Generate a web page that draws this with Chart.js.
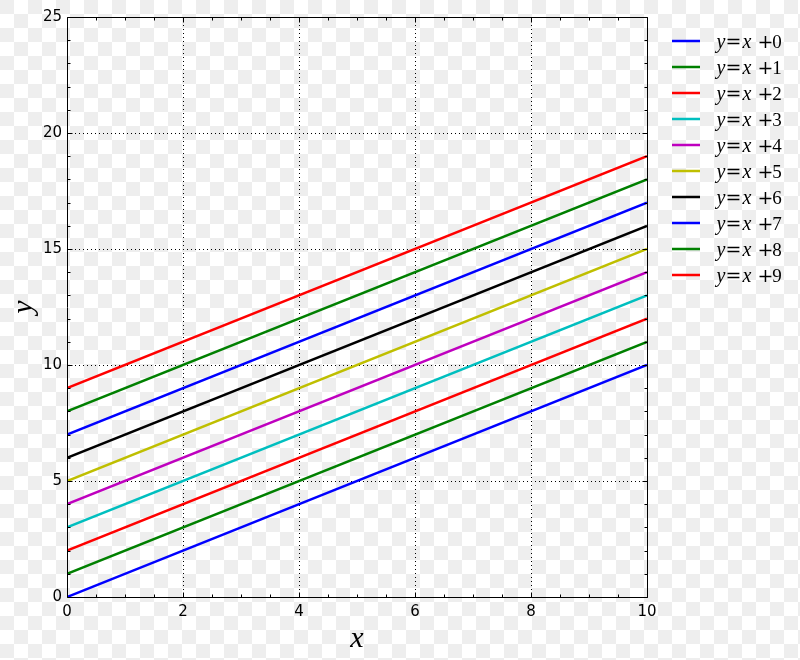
<!DOCTYPE html>
<html>
<head>
<meta charset="utf-8">
<script src="https://cdn.jsdelivr.net/npm/chart.js@4/dist/chart.umd.min.js"></script>
<style>
  html, body { margin:0; padding:0; }
  body {
    width:800px; height:660px; overflow:hidden;
    background-color:#ffffff;
    background-image: conic-gradient(#ffffff 25%, #eeeeee 0 50%, #ffffff 0 75%, #eeeeee 0);
    background-size: 28px 28px;
  }
  #wrap { position:absolute; left:0; top:0; width:800px; height:660px; }
</style>
</head>
<body>
<div id="wrap"><canvas id="c" width="800" height="660"></canvas></div>
<script>
// ---- data ----
const xValues = [0, 10];
const series0 = [0, 10];
const series1 = [1, 11];
const series2 = [2, 12];
const series3 = [3, 13];
const series4 = [4, 14];
const series5 = [5, 15];
const series6 = [6, 16];
const series7 = [7, 17];
const series8 = [8, 18];
const series9 = [9, 19];
const seriesLabels = ['y=x+0','y=x+1','y=x+2','y=x+3','y=x+4','y=x+5','y=x+6','y=x+7','y=x+8','y=x+9'];
const xMajorTicks = [0, 2, 4, 6, 8, 10];
const yMajorTicks = [0, 5, 10, 15, 20, 25];

// ---- style ----
const colors = ['#0000ff','#008000','#ff0000','#00bfbf','#bf00bf','#bfbf00','#000000','#0000ff','#008000','#ff0000'];
const allSeries = [series0,series1,series2,series3,series4,series5,series6,series7,series8,series9];

const datasets = allSeries.map((s, i) => ({
  label: seriesLabels[i],
  data: xValues.map((x, j) => ({x: x, y: s[j]})),
  borderColor: colors[i],
  backgroundColor: colors[i],
  borderWidth: 2.5,
  pointRadius: 0,
  fill: false,
  tension: 0
}));

const framePlugin = {
  id: 'mplframe',
  beforeDatasetsDraw(chart) {
    const {ctx, chartArea: a, scales: {x, y}} = chart;
    ctx.save();
    ctx.strokeStyle = '#000';
    ctx.lineWidth = 1;
    ctx.setLineDash([1, 3]);
    xMajorTicks.forEach(v => {
      const px = Math.round(x.getPixelForValue(v)) + 0.5;
      if (v === x.min || v === x.max) return;
      ctx.beginPath(); ctx.moveTo(px, a.top); ctx.lineTo(px, a.bottom); ctx.stroke();
    });
    yMajorTicks.forEach(v => {
      const py = Math.round(y.getPixelForValue(v)) + 0.5;
      if (v === y.min || v === y.max) return;
      ctx.beginPath(); ctx.moveTo(a.left, py); ctx.lineTo(a.right, py); ctx.stroke();
    });
    ctx.restore();
  },
  afterDatasetsDraw(chart) {
    const {ctx, chartArea: a, scales: {x, y}} = chart;
    ctx.save();
    ctx.strokeStyle = '#000';
    ctx.lineWidth = 1;
    ctx.setLineDash([]);
    const L = Math.round(a.left) + 0.5, R = Math.round(a.right) + 0.5;
    const T = Math.round(a.top) + 0.5, B = Math.round(a.bottom) + 0.5;
    ctx.beginPath();
    ctx.rect(L, T, R - L, B - T);
    ctx.stroke();
    for (let k = 0; k <= 20; k++) {
      const v = k * 0.5;
      const major = (k % 4 === 0);
      const len = major ? 5 : 3;
      const px = Math.round(x.getPixelForValue(v)) + 0.5;
      ctx.beginPath();
      ctx.moveTo(px, B); ctx.lineTo(px, B - len);
      ctx.moveTo(px, T); ctx.lineTo(px, T + len);
      ctx.stroke();
    }
    for (let v = 0; v <= 25; v++) {
      const major = (v % 5 === 0);
      const len = major ? 5 : 3;
      const py = Math.round(y.getPixelForValue(v)) + 0.5;
      ctx.beginPath();
      ctx.moveTo(L, py); ctx.lineTo(L + len, py);
      ctx.moveTo(R, py); ctx.lineTo(R - len, py);
      ctx.stroke();
    }
    ctx.restore();
  },
  afterDraw(chart) {
    const ctx = chart.ctx;
    ctx.save();
    const centers = [721, 733.5, 747, 765.5, 777];
    chart.data.datasets.forEach((ds, i) => {
      const yy = 41 + 26 * i;
      ctx.strokeStyle = ds.borderColor;
      ctx.lineWidth = 2.5;
      ctx.beginPath(); ctx.moveTo(672, yy); ctx.lineTo(700, yy); ctx.stroke();
      ctx.fillStyle = '#000';
      ctx.textBaseline = 'alphabetic';
      ctx.textAlign = 'center';
      ds.label.split('').forEach((ch, j) => {
        if (/[a-z]/.test(ch)) {
          ctx.font = 'italic 20px "Liberation Serif", serif';
        } else if (ch === '=' || ch === '+') {
          ctx.font = '19px "DejaVu Serif", serif';
        } else {
          ctx.font = '19px "Liberation Serif", serif';
        }
        ctx.fillText(ch, centers[j], yy + 6.5);
      });
    });
    ctx.restore();
  }
};

new Chart(document.getElementById('c'), {
  type: 'line',
  data: { datasets: datasets },
  plugins: [framePlugin],
  options: {
    responsive: false,
    animation: false,
    layout: { padding: { top: 17, right: 153, left: 0, bottom: 0 } },
    plugins: { legend: { display: false }, tooltip: { enabled: false } },
    scales: {
      x: {
        type: 'linear',
        min: 0, max: 10,
        grid: { display: false, drawTicks: false },
        border: { display: false },
        ticks: {
          stepSize: 2, color: '#000', padding: 6,
          font: { family: '"DejaVu Sans"', size: 15 }
        },
        title: {
          display: true, text: 'x', color: '#000',
          font: { family: '"Liberation Serif"', style: 'italic', size: 30 },
          padding: { top: 0, bottom: 3 }
        },
        afterFit(s) { s.height = 63; }
      },
      y: {
        type: 'linear',
        min: 0, max: 25,
        grid: { display: false, drawTicks: false },
        border: { display: false },
        ticks: {
          stepSize: 5, color: '#000', padding: 5,
          font: { family: '"DejaVu Sans"', size: 15 }
        },
        title: {
          display: true, text: 'y', color: '#000',
          font: { family: '"Liberation Serif"', style: 'italic', size: 30 },
          padding: { top: 6, bottom: 0 }
        },
        afterFit(s) { s.width = 67; }
      }
    }
  }
});
</script>
</body>
</html>
